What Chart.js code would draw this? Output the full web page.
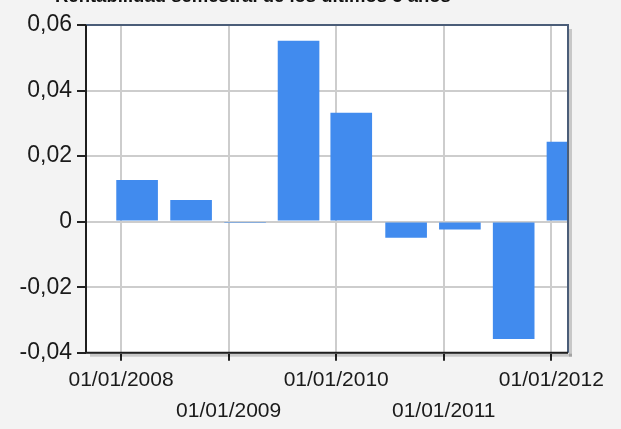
<!DOCTYPE html>
<html>
<head>
<meta charset="utf-8">
<script src="https://cdn.jsdelivr.net/npm/chart.js@4"></script>
<style>
  html, body { margin: 0; padding: 0; background: #f3f3f3; }
  #wrap { width: 621px; height: 429px; }
</style>
</head>
<body>
<div id="wrap"><canvas id="c" width="621" height="429"></canvas></div>
<script>
// ---- data ----
const chartTitle = 'Rentabilidad semestral de los últimos 5 años';
// semester bar positions, in decimal years
const semesters = [2008.149, 2008.651, 2009.153, 2009.650, 2010.140, 2010.650, 2011.150, 2011.650, 2012.150];
const returns = [0.0127, 0.0066, -0.0004, 0.0552, 0.0332, -0.0049, -0.0024, -0.0358, 0.0244];
const yearTicks = [2008, 2009, 2010, 2011, 2012];
const yearLabels = ['01/01/2008', '01/01/2009', '01/01/2010', '01/01/2011', '01/01/2012'];
const yTicks = [-0.04, -0.02, 0, 0.02, 0.04, 0.06];

const FONT = "'Liberation Sans', Arial, sans-serif";

const bgPlugin = {
  id: 'bg',
  beforeDraw(chart) {
    const { ctx, chartArea: a } = chart;
    ctx.save();
    ctx.fillStyle = '#f3f3f3';
    ctx.fillRect(0, 0, chart.width, chart.height);
    ctx.fillStyle = '#ffffff';
    ctx.fillRect(a.left, a.top, a.right - a.left, a.bottom - a.top);
    ctx.restore();
  },
  afterDraw(chart) {
    const { ctx, chartArea: a } = chart;
    ctx.save();
    // shadow
    ctx.fillStyle = 'rgba(0,0,0,0.18)';
    ctx.fillRect(a.right + 1, a.top + 4, 3, a.bottom - a.top);
    ctx.fillRect(a.left + 4, a.bottom + 1, a.right - a.left, 3);
    // top & right border
    ctx.strokeStyle = '#4b5d78';
    ctx.lineWidth = 2;
    ctx.beginPath();
    ctx.moveTo(a.left, a.top);
    ctx.lineTo(a.right, a.top);
    ctx.lineTo(a.right, a.bottom);
    ctx.stroke();
    // left & bottom axis lines
    ctx.strokeStyle = '#1e1e1e';
    ctx.beginPath();
    ctx.moveTo(a.left, a.top);
    ctx.lineTo(a.left, a.bottom);
    ctx.lineTo(a.right, a.bottom);
    ctx.stroke();
    // title (cut off at the top)
    ctx.fillStyle = '#111111';
    ctx.font = 'bold 18.5px ' + FONT;
    ctx.textAlign = 'left';
    ctx.textBaseline = 'alphabetic';
    ctx.fillText(chartTitle, 55, 1.5);
    ctx.restore();
  }
};

new Chart(document.getElementById('c'), {
  type: 'bar',
  data: {
    datasets: [{
      data: semesters.map((x, i) => ({ x: x, y: returns[i] })),
      backgroundColor: '#418bee',
      borderWidth: 0,
      barPercentage: 0.79,
      categoryPercentage: 1.0
    }]
  },
  options: {
    responsive: false,
    animation: false,
    devicePixelRatio: 1,
    layout: { padding: { top: 25, right: 53, left: 0, bottom: 0 } },
    plugins: { legend: { display: false }, tooltip: { enabled: false }, title: { display: false } },
    scales: {
      x: {
        type: 'linear',
        offset: false,
        min: 2007.674,
        max: 2012.155,
        afterFit(s) { s.height = 76.3; },
        afterBuildTicks(s) { s.ticks = yearTicks.map(v => ({ value: v })); },
        border: { display: false },
        grid: { offset: false, color: '#cdcdcd', lineWidth: 2, tickColor: '#222222', tickLength: 8, drawTicks: true },
        ticks: {
          autoSkip: false,
          maxRotation: 0,
          padding: 4,
          color: '#1a1a1a',
          font: { family: FONT, size: 21, lineHeight: 1.476 },
          callback(v) {
            const i = yearTicks.indexOf(v);
            if (i < 0) return '';
            return i % 2 === 0 ? yearLabels[i] : ['', yearLabels[i]];
          }
        }
      },
      y: {
        min: -0.04,
        max: 0.06,
        afterFit(s) { s.width = 86; },
        afterBuildTicks(s) { s.ticks = yTicks.map(v => ({ value: v })); },
        border: { display: false },
        grid: { color: '#cdcdcd', lineWidth: 2, tickColor: '#222222', tickLength: 9, drawTicks: true },
        ticks: {
          padding: 5,
          color: '#1a1a1a',
          font: { family: FONT, size: 23 },
          callback(v) {
            if (Math.abs(v) < 1e-9) return '0';
            return v.toFixed(2).replace('.', ',');
          }
        }
      }
    }
  },
  plugins: [bgPlugin]
});
</script>
</body>
</html>
